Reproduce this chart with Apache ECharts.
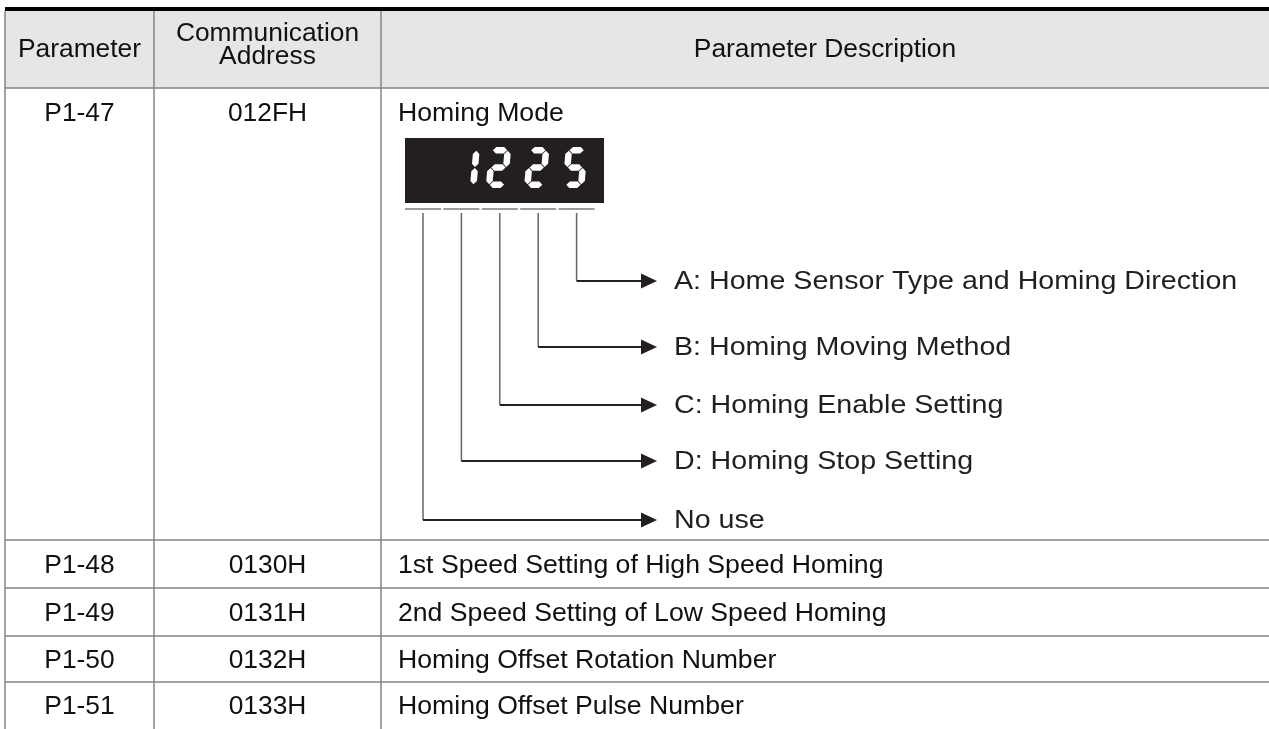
<!DOCTYPE html>
<html>
<head>
<meta charset="utf-8">
<script src="https://cdn.jsdelivr.net/npm/echarts@6.0.0/dist/echarts.min.js"></script>
<style>
html,body{margin:0;padding:0;background:#fff;}
#chart{width:1269px;height:729px;}
</style>
</head>
<body>
<div id="chart"></div>
<script>
// ---- table content ----
const headers = ['Parameter', 'Communication\nAddress', 'Parameter Description'];
const params = ['P1-47', 'P1-48', 'P1-49', 'P1-50', 'P1-51'];
const addresses = ['012FH', '0130H', '0131H', '0132H', '0133H'];
const descriptions = [
  'Homing Mode',
  '1st Speed Setting of High Speed Homing',
  '2nd Speed Setting of Low Speed Homing',
  'Homing Offset Rotation Number',
  'Homing Offset Pulse Number'
];
// 7-segment display content (5 positions, first blank)
const displayDigits = ['', '1', '2', '2', '5'];
// digit descriptions, from rightmost digit (A) to leftmost (No use)
const digitLabels = [
  'A: Home Sensor Type and Homing Direction',
  'B: Homing Moving Method',
  'C: Homing Enable Setting',
  'D: Homing Stop Setting',
  'No use'
];

// ---- layout ----
const colX = [5, 154, 381, 1269];
const rowY = [11, 88, 540, 588, 636, 682, 729];
const FONT = '"Liberation Sans", Arial, sans-serif';
const SIZE = 25, SX = 1.055;
const els = [];

function txt(x, y, text, opt) {
  opt = opt || {};
  const align = opt.align || 'center';
  els.push({
    type: 'text', x: x, y: y, scaleX: opt.sx || SX, z: 10,
    style: {
      text: text, x: 0, y: 0,
      fontSize: opt.size || SIZE, fontFamily: FONT,
      fill: opt.color || '#111',
      align: align, textAlign: align,
      verticalAlign: 'middle', textVerticalAlign: 'middle',
      lineHeight: opt.lh || 24
    }
  });
}
function line(x1, y1, x2, y2, color, w, z) {
  els.push({type: 'line', z: z || 5, shape: {x1: x1, y1: y1, x2: x2, y2: y2},
    style: {stroke: color, lineWidth: w}});
}
function rect(x, y, w, h, fill, z) {
  els.push({type: 'rect', z: z || 1, shape: {x: x, y: y, width: w, height: h}, style: {fill: fill}});
}

// header background and top rule
rect(colX[0], rowY[0], colX[3] - colX[0], rowY[1] - rowY[0], '#e6e6e6', 1);
rect(colX[0], 7, colX[3] - colX[0], 4, '#000', 6);

const GRID = '#858585';
for (let i = 1; i < rowY.length - 1; i++) line(colX[0], rowY[i], colX[3], rowY[i], GRID, 1.5);
for (let i = 0; i < 3; i++) line(colX[i], rowY[0], colX[i], rowY[rowY.length - 1], GRID, 1.5);

// header texts
txt((colX[0] + colX[1]) / 2, 50, headers[0]);
txt((colX[1] + colX[2]) / 2, 46, headers[1], {lh: 23});
txt((colX[2] + colX[3]) / 2, 50, headers[2]);

// body rows
const rowCenters = [114];
for (let i = 2; i < rowY.length - 1; i++) rowCenters.push((rowY[i] + rowY[i + 1]) / 2 + 2);
for (let r = 0; r < params.length; r++) {
  txt((colX[0] + colX[1]) / 2, rowCenters[r], params[r]);
  txt((colX[1] + colX[2]) / 2, rowCenters[r], addresses[r]);
  txt(398, rowCenters[r], descriptions[r], {align: 'left', sx: 1.065});
}

// ---- 7-segment display ----
rect(405, 138, 199, 65, '#231f20', 3);
const SEGMAP = {
  '0': 'abcdef', '1': 'bc', '2': 'abged', '3': 'abgcd', '4': 'fgbc',
  '5': 'afgcd', '6': 'afgedc', '7': 'abc', '8': 'abcdefg', '9': 'abcdfg', '': ''
};
const GW = 22, GH = 41, T = 6.5, GAP = 0.6, SLANT = 0.09;
function drawDigit(ch, ox, oy) {
  const L = T / 2, R = GW - T / 2, Tp = T / 2, M = GH / 2, B = GH - T / 2, h = T / 2;
  const hseg = (xa, xb, y) => [[xa, y], [xa + h, y - h], [xb - h, y - h], [xb, y], [xb - h, y + h], [xa + h, y + h]];
  const vseg = (x, ya, yb) => [[x, ya], [x + h, ya + h], [x + h, yb - h], [x, yb], [x - h, yb - h], [x - h, ya + h]];
  const segs = {
    a: hseg(L + GAP, R - GAP, Tp), d: hseg(L + GAP, R - GAP, B), g: hseg(L + GAP, R - GAP, M),
    b: vseg(R, Tp + GAP, M - GAP), c: vseg(R, M + GAP, B - GAP),
    f: vseg(L, Tp + GAP, M - GAP), e: vseg(L, M + GAP, B - GAP)
  };
  for (const s of SEGMAP[ch]) {
    const pts = segs[s].map(p => [ox + p[0] + (GH - p[1]) * SLANT, oy + p[1]]);
    els.push({type: 'polygon', z: 4, shape: {points: pts}, style: {fill: '#ffffff'}});
  }
}
const cellW = 38.3;
displayDigits.forEach((d, i) => {
  const shift = d === '1' ? 7 : 0;
  drawDigit(d, 413 + i * cellW + shift - 4, 147);
});

// underline segments below display
const ulY = 209;
for (let i = 0; i < 5; i++) {
  const x0 = 405 + i * 38.4;
  line(x0, ulY, x0 + 36, ulY, '#7a7a7a', 1.5, 5);
}

// connectors with arrows
const arrowY = [281, 347, 405, 461, 520];
const tipX = 657, headLen = 16, headHalf = 7.5;
for (let k = 0; k < digitLabels.length; k++) {
  const pos = 4 - k;
  const vx = 405 + pos * 38.4 + 18;
  line(vx, 213, vx, arrowY[k], '#666', 1.5, 5);
  line(vx, arrowY[k], tipX - headLen + 1, arrowY[k], '#231f20', 2, 5);
  els.push({type: 'polygon', z: 5, shape: {points: [[tipX, arrowY[k]], [tipX - headLen, arrowY[k] - headHalf], [tipX - headLen, arrowY[k] + headHalf]]},
    style: {fill: '#231f20'}});
  txt(674, arrowY[k] + 1, digitLabels[k], {align: 'left', size: 25, sx: 1.145, color: '#231f20'});
}

const chart = echarts.init(document.getElementById('chart'), null, {renderer: 'canvas'});
chart.setOption({
  backgroundColor: '#ffffff',
  animation: false,
  graphic: {elements: els}
});
</script>
</body>
</html>
